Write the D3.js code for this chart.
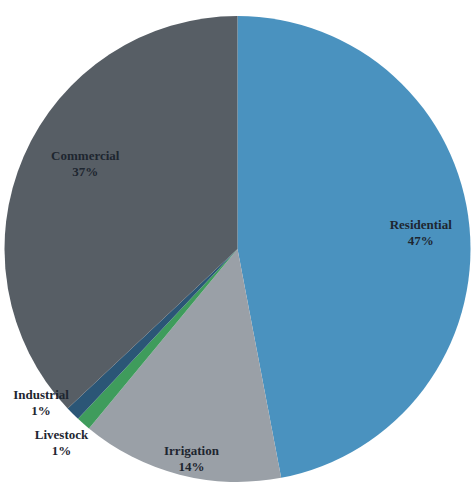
<!DOCTYPE html>
<html><head><meta charset="utf-8">
<script src="https://cdn.jsdelivr.net/npm/d3@7"></script>
<style>html,body{margin:0;padding:0;background:#fff;}svg{display:block;}</style>
</head><body>
<svg id="chart" width="474" height="487"></svg>
<script>
const categories = ["Residential", "Irrigation", "Livestock", "Industrial", "Commercial"];
const values = [47, 14, 1, 1, 37];
const labels = ["47%", "14%", "1%", "1%", "37%"];

const colors = {Residential:"#4a92bf", Irrigation:"#9aa0a7", Livestock:"#3f9c5c", Industrial:"#2b5676", Commercial:"#575e65"};
// label placement: radius factor and angle offset (degrees)
const labelPos = {
  Residential:{r:0.79, da:0},
  Irrigation:{r:0.92, da:-2},
  Livestock:{r:1.12, da:1},
  Industrial:{r:1.07, da:7},
  Commercial:{r:0.75, da:6}
};

const svg = d3.select("#chart");
const cx = 237.5, cy = 249, R = 233;
const g = svg.append("g").attr("transform", `translate(${cx},${cy})`);

const data = categories.map((c,i)=>({cat:c, value:values[i], label:labels[i]}));
const pie = d3.pie().value(d=>d.value).sort(null);
const arcs = pie(data);
const arc = d3.arc().innerRadius(0).outerRadius(R);

g.selectAll("path").data(arcs).enter().append("path")
  .attr("d", arc)
  .attr("fill", d=>colors[d.data.cat]);

const lbl = g.selectAll("text.lbl").data(arcs).enter().append("text")
  .attr("class","lbl")
  .attr("text-anchor","middle")
  .attr("font-family","'Liberation Serif', 'DejaVu Serif', serif")
  .attr("font-weight","bold")
  .attr("font-size","13px")
  .attr("fill","#1e2630")
  .attr("transform", d=>{
    const p = labelPos[d.data.cat];
    const a = (d.startAngle + d.endAngle)/2 + p.da*Math.PI/180;
    const rr = R*p.r;
    return `translate(${rr*Math.sin(a)},${-rr*Math.cos(a)})`;
  });
lbl.append("tspan").attr("x",0).attr("y",-3).text(d=>d.data.cat);
lbl.append("tspan").attr("x",0).attr("y",13).text(d=>d.data.label);
</script>
</body></html>
